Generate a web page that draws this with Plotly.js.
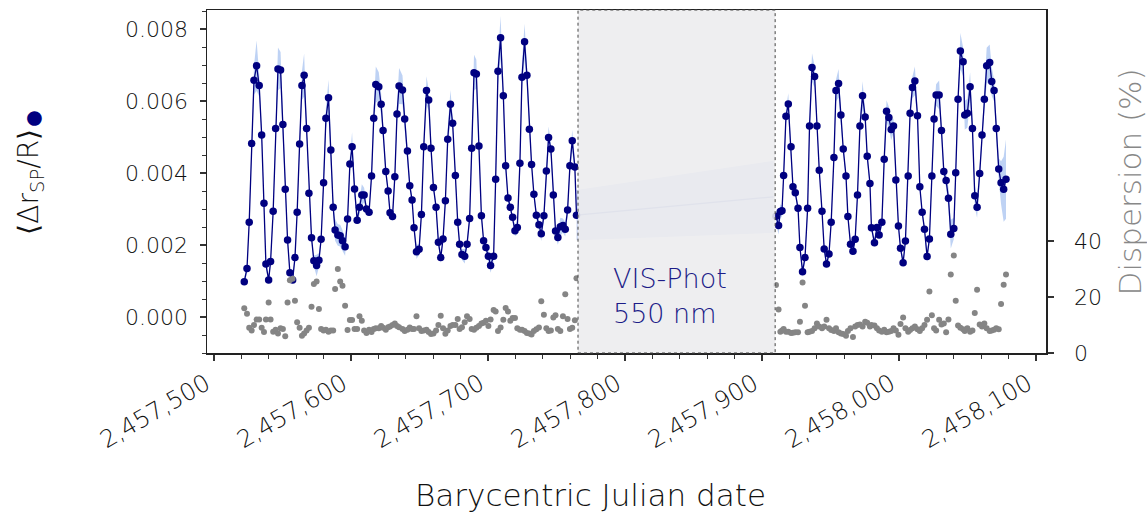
<!DOCTYPE html>
<html>
<head>
<meta charset="utf-8">
<script src="https://cdn.plot.ly/plotly-3.0.1.min.js"></script>
<style>html,body{margin:0;padding:0;background:#fff;}#chart{width:1147px;height:512px;}</style>
</head>
<body>
<div id="chart"></div>
<script>
// ---- Data ----
const bjdLeft = [
2457522.1,2457524.1,2457525.7,2457527.5,2457529.2,2457531.1,2457533.0,2457534.8,2457536.5,2457537.9,
2457539.9,2457541.3,2457543.2,2457545.0,2457546.7,2457548.6,2457550.3,2457552.0,2457553.7,2457555.4,
2457557.4,2457559.1,2457560.7,2457562.5,2457564.2,2457565.8,2457567.6,2457569.3,2457571.2,2457572.9,
2457574.9,2457576.6,2457578.2,2457580.0,2457581.7,2457583.6,2457585.3,2457587.0,2457588.4,2457590.4,
2457592.1,2457593.8,2457595.7,2457597.5,2457599.2,2457600.8,2457602.6,2457604.5,2457606.2,2457607.9,
2457609.6,2457611.3,2457613.2,2457615.0,2457616.6,2457618.1,2457620.3,2457622.0,2457623.4,2457625.4,
2457627.1,2457628.5,2457630.3,2457632.0,2457633.6,2457635.1,2457637.6,2457639.2,2457641.2,2457642.9,
2457644.6,2457646.0,2457647.8,2457649.7,2457651.4,2457653.1,2457655.1,2457656.7,2457658.4,2457660.2,
2457662.1,2457663.8,2457665.5,2457667.2,2457668.9,2457670.6,2457672.6,2457674.2,2457676.2,2457677.9,
2457679.3,2457681.0,2457683.0,2457684.7,2457686.6,2457688.1,2457689.8,2457691.5,2457693.4,2457695.2,
2457696.8,2457698.5,2457700.3,2457701.9,2457704.1,2457705.6,2457707.3,2457709.2,2457711.2,2457712.9,
2457714.6,2457716.3,2457718.0,2457719.7,2457721.4,2457723.3,2457724.8,2457726.7,2457728.4,2457730.2,
2457731.8,2457733.5,2457735.3,2457737.2,2457738.9,2457740.8,2457742.6,2457744.2,2457745.9,2457747.7,
2457749.3,2457751.0,2457752.8,2457754.7,2457756.4,2457758.1,2457759.8,2457761.5,2457763.4,2457764.6
];
const drLeft = [
0.00098,0.00135,0.00263,0.00482,0.00658,0.00698,0.00643,0.00506,0.00316,0.00147,
0.00103,0.00154,0.00294,0.00524,0.00689,0.00686,0.00535,0.00355,0.00214,0.00123,
0.00103,0.00165,0.00291,0.00481,0.00643,0.00672,0.00524,0.00344,0.00220,0.00156,
0.00143,0.00158,0.00216,0.00373,0.00552,0.00609,0.00464,0.00305,0.00242,0.00228,
0.00226,0.00212,0.00195,0.00272,0.00425,0.00473,0.00356,0.00269,0.00305,0.00339,
0.00339,0.00300,0.00291,0.00392,0.00552,0.00646,0.00640,0.00591,0.00518,0.00404,
0.00350,0.00290,0.00279,0.00390,0.00564,0.00642,0.00631,0.00550,0.00461,0.00365,
0.00325,0.00248,0.00181,0.00188,0.00285,0.00473,0.00629,0.00603,0.00469,0.00360,
0.00305,0.00208,0.00165,0.00217,0.00323,0.00494,0.00591,0.00538,0.00393,0.00263,
0.00202,0.00174,0.00169,0.00202,0.00274,0.00469,0.00679,0.00675,0.00475,0.00281,
0.00212,0.00193,0.00169,0.00143,0.00169,0.00383,0.00683,0.00776,0.00615,0.00420,
0.00331,0.00305,0.00277,0.00240,0.00249,0.00427,0.00666,0.00765,0.00672,0.00522,
0.00424,0.00341,0.00283,0.00256,0.00231,0.00281,0.00406,0.00499,0.00467,0.00339,
0.00239,0.00221,0.00251,0.00254,0.00244,0.00297,0.00420,0.00490,0.00417,0.00283
];
const errLeft = [
0.0001,0.00012,0.00015,0.0002,0.0004,0.0007,0.0003,0.00015,0.0001,0.00012,
0.0001,0.0001,0.00015,0.0002,0.0006,0.0005,0.0002,0.00012,0.0001,0.0001,
0.0001,0.0001,0.00015,0.0002,0.0004,0.0006,0.0002,0.00012,0.0001,0.00015,
0.0003,0.0002,0.0001,0.00015,0.0003,0.0005,0.0002,0.0002,0.0003,0.0003,
0.0003,0.0003,0.00025,0.0001,0.0002,0.0004,0.0002,0.0001,0.0002,0.0003,
0.0002,0.0001,0.0001,0.00012,0.0003,0.0005,0.0004,0.0003,0.0002,0.00012,
0.0001,0.0001,0.00012,0.00015,0.0003,0.0005,0.0004,0.0003,0.0002,0.00012,
0.0001,0.00012,0.0002,0.00015,0.0001,0.0002,0.0004,0.0003,0.00015,0.0001,
0.0001,0.00012,0.00015,0.0001,0.00015,0.0003,0.0004,0.0002,0.00012,0.0001,
0.00012,0.00015,0.0002,0.00012,0.0001,0.0002,0.0005,0.0004,0.0002,0.0001,
0.0001,0.00012,0.00015,0.0002,0.00012,0.0002,0.0004,0.0006,0.0003,0.00015,
0.0001,0.0001,0.00012,0.00015,0.0002,0.0002,0.0004,0.0005,0.0003,0.00015,
0.0001,0.0001,0.00012,0.00015,0.0002,0.00015,0.0002,0.0003,0.0002,0.00015,
0.00015,0.0002,0.00025,0.0002,0.0002,0.00015,0.0002,0.0003,0.0002,0.00015
];
const dispLeft = [
16,14,9,8,10,12,12,9,7.5,12,
18,12,7.6,8.3,7,8.8,8.6,6,18,26,
26.5,18.7,11,9,6.2,7,8,9,16.5,24.6,
25.5,15.7,8.6,8,8.3,7.6,8,8,22.9,30,
25.5,24,16.9,8.2,11.8,11.8,8.6,8.6,13.1,11.5,
8,7.1,8.3,7.5,8.6,8.8,8.8,9.6,9,8.3,
9.2,9.5,10,10.5,9.6,9.2,8.6,7.9,8.3,9.1,
8.6,8.6,13.1,8.8,7.9,8,8.3,7.5,6.8,7,
8,10,13.3,8.8,6.9,8,9.6,10,10,12.1,
8.6,9.2,11,13.1,12.1,8.6,8.3,9,9.6,10.5,
10.8,11.5,9.6,12,15.4,14.8,7.9,9.1,11.9,16.1,
14.8,11.5,12.5,12.5,8.8,8.3,8.3,7.9,7.1,7,
6.6,7.9,8.5,9.1,18.5,13.7,8.8,7.9,8,12.7,
13.5,8.6,7.9,13.1,21,12.1,8.6,9,11.7,26.7
];

const bjdRight = [
2457910.2,2457912.1,2457913.4,2457914.6,2457915.8,2457917.5,2457919.2,2457921.2,2457922.6,2457924.3,
2457926.3,2457927.7,2457929.6,2457931.4,2457933.3,2457934.7,2457936.5,2457938.4,2457940.1,2457941.8,
2457943.8,2457945.4,2457947.1,2457948.9,2457950.5,2457952.5,2457954.0,2457955.9,2457957.6,2457959.3,
2457961.3,2457962.7,2457964.6,2457966.4,2457968.0,2457969.7,2457971.5,2457973.4,2457975.3,2457976.8,
2457978.8,2457979.9,2457982.1,2457983.9,2457985.5,2457987.5,2457989.2,2457990.9,2457992.6,2457994.3,
2457996.0,2457997.7,2457999.6,2458001.1,2458003.0,2458004.7,2458006.7,2458008.1,2458009.8,2458011.6,
2458013.5,2458015.2,2458016.9,2458018.6,2458020.5,2458022.2,2458024.0,2458025.6,2458027.1,2458029.3,
2458031.0,2458032.7,2458034.4,2458036.1,2458037.8,2458040.0,2458041.4,2458043.1,2458044.8,2458046.8,
2458048.0,2458049.9,2458051.9,2458053.6,2458055.3,2458057.0,2458058.9,2458060.6,2458062.3,2458064.0,
2458066.2,2458067.7,2458069.4,2458071.0,2458072.8,2458074.5,2458076.4,2458078.1
];
const drRight = [
0.00280,0.00254,0.00293,0.00295,0.00393,0.00558,0.00592,0.00473,0.00362,0.00345,
0.00302,0.00193,0.00126,0.00165,0.00302,0.00531,0.00693,0.00668,0.00531,0.00408,
0.00294,0.00189,0.00147,0.00175,0.00263,0.00443,0.00629,0.00649,0.00561,0.00467,
0.00392,0.00279,0.00202,0.00183,0.00216,0.00339,0.00531,0.00615,0.00556,0.00447,
0.00371,0.00248,0.00206,0.00249,0.00228,0.00263,0.00438,0.00572,0.00554,0.00521,
0.00531,0.00381,0.00253,0.00191,0.00151,0.00211,0.00392,0.00566,0.00638,0.00656,
0.00559,0.00362,0.00291,0.00244,0.00168,0.00217,0.00392,0.00550,0.00617,0.00617,
0.00518,0.00404,0.00379,0.00330,0.00230,0.00246,0.00401,0.00605,0.00739,0.00709,
0.00561,0.00566,0.00640,0.00524,0.00337,0.00305,0.00399,0.00506,0.00605,0.00698,
0.00707,0.00654,0.00629,0.00524,0.00411,0.00373,0.00355,0.00383
];
const errRight = [
0.0002,0.00025,0.0002,0.00015,0.00015,0.0002,0.0003,0.0002,0.00012,0.0001,
0.0001,0.0001,0.00015,0.00012,0.0001,0.0002,0.0004,0.0003,0.00015,0.0001,
0.0001,0.0001,0.00012,0.0001,0.0001,0.00015,0.0003,0.0004,0.0002,0.00012,
0.0001,0.0001,0.00012,0.00012,0.0001,0.00012,0.0002,0.0004,0.0002,0.00012,
0.0001,0.0001,0.00012,0.00012,0.0001,0.00012,0.0002,0.0003,0.0003,0.0003,
0.0002,0.00012,0.0001,0.0001,0.00012,0.0001,0.00012,0.0002,0.0003,0.0004,
0.0002,0.00012,0.0001,0.0001,0.00015,0.0001,0.00012,0.0002,0.0003,0.0004,
0.0002,0.00015,0.0002,0.0003,0.0004,0.0003,0.0002,0.0003,0.0005,0.0004,
0.0004,0.0004,0.0004,0.0003,0.0003,0.0003,0.0002,0.00015,0.0003,0.0005,
0.0005,0.0004,0.0003,0.0002,0.0003,0.0006,0.0009,0.0011
];
const dispRight = [
24.3,15.5,7.6,8,8.6,7.6,7.6,7.1,7.2,7.4,
7.4,11.2,25.2,16.9,7.4,7.6,7.9,8.8,10.5,9.5,
8.8,9.5,11.9,8.8,8.2,7.9,8.8,7.4,7,6.8,
6.2,7.9,8.8,5.7,9.5,10,10.2,9.5,11.2,10.8,
9.5,10,9.8,8.8,8,7.6,8.3,7.4,7.6,7.9,
8.8,8,6.5,10.4,12.7,8.8,7.6,8.2,8.8,9.5,
8.5,7.9,8.8,10,11.9,22,13.5,8.8,8,11.9,
10.2,10.5,7.4,12,28,34.8,18.7,9.8,9,8.5,
7.9,8.8,7.6,8,14.3,22.6,10.2,9.5,10.5,8.8,
7.9,8,8.3,8.8,8.5,17.5,24.4,28
];

// model across the unobserved window
const bjdGap = [2457764.6, 2457908.5];
const drGap = [0.00283, 0.00334];
const errGap = [0.0007, 0.001];

// unobserved window and labels
const gapWindow = [2457765.7, 2457909.6];
const windowLabel = 'VIS-Phot<br>550 nm';
const xTickVals = [2457500, 2457600, 2457700, 2457800, 2457900, 2458000, 2458100];
const yTickVals = [0, 0.002, 0.004, 0.006, 0.008];
const y2TickVals = [0, 20, 40];

// ---- Build traces ----
const NAVY = '#000080';
const FONT = 'DejaVu Sans, Liberation Sans, sans-serif';

function band(x, y, e, color) {
  const up = y.map((v, i) => v + e[i]);
  const lo = y.map((v, i) => v - e[i]);
  return {
    x: x.concat(x.slice().reverse()),
    y: up.concat(lo.slice().reverse()),
    type: 'scatter', mode: 'lines', fill: 'toself',
    fillcolor: color, line: {width: 0}, hoverinfo: 'skip', showlegend: false
  };
}
function series(x, y) {
  return {
    x: x, y: y, type: 'scatter', mode: 'lines+markers',
    line: {color: NAVY, width: 1.3},
    marker: {color: NAVY, size: 7.5},
    showlegend: false
  };
}
function disp(x, y) {
  return {
    x: x, y: y, yaxis: 'y2', type: 'scatter', mode: 'markers',
    marker: {color: '#858585', size: 6},
    showlegend: false
  };
}

const traces = [
  band(bjdGap, drGap, errGap, 'rgba(120,150,220,0.35)'),
  {x: bjdGap, y: drGap, type: 'scatter', mode: 'lines', line: {color: 'rgba(90,110,190,0.6)', width: 1.2}, showlegend: false},
  band(bjdLeft, drLeft, errLeft, 'rgba(110,155,230,0.45)'),
  band(bjdRight, drRight, errRight, 'rgba(110,155,230,0.45)'),
  series(bjdLeft, drLeft),
  series(bjdRight, drRight),
  disp(bjdLeft, dispLeft),
  disp(bjdRight, dispRight)
];

const tickFont = {family: FONT, size: 22, color: '#111', weight: 300};

const layout = {
  width: 1147, height: 512,
  margin: {l: 207, r: 101, t: 10, b: 159},
  paper_bgcolor: '#fff', plot_bgcolor: '#fff',
  showlegend: false,
  xaxis: {
    range: [2457494.9, 2458107.3],
    tickmode: 'array', tickvals: xTickVals, tickformat: ',d',
    tickangle: -30, tickfont: {family: FONT, size: 24, color: '#111', weight: 300},
    ticklabelshift: -8,
    ticks: 'outside', ticklen: 6, tickwidth: 1.2, tickcolor: '#333',
    minor: {dtick: 20, ticks: 'outside', ticklen: 4, tickcolor: '#333', tickwidth: 1},
    showline: true, linecolor: '#222', linewidth: 1.5, mirror: true,
    showgrid: false, zeroline: false
  },
  yaxis: {
    range: [-0.001, 0.00853],
    tickmode: 'array', tickvals: yTickVals, tickformat: '.3f',
    tickfont: tickFont, ticklabelstandoff: 7,
    ticks: 'outside', ticklen: 6, tickwidth: 1.2, tickcolor: '#333',
    minor: {dtick: 0.0005, tick0: 0, ticks: 'outside', ticklen: 4, tickcolor: '#333', tickwidth: 1},
    showline: true, linecolor: '#222', linewidth: 1.5,
    showgrid: false, zeroline: false
  },
  yaxis2: {
    overlaying: 'y', side: 'right',
    range: [0, 122.5],
    tickmode: 'array', tickvals: y2TickVals,
    tickfont: tickFont, ticklabelstandoff: 16,
    ticks: 'outside', ticklen: 6, tickwidth: 1.2, tickcolor: '#333',
    showline: true, linecolor: '#222', linewidth: 1.5,
    showgrid: false, zeroline: false
  },
  shapes: [{
    type: 'rect', xref: 'x', yref: 'paper',
    x0: gapWindow[0], x1: gapWindow[1], y0: 0, y1: 1,
    fillcolor: 'rgba(236,236,238,0.88)', layer: 'above',
    line: {color: '#444', width: 1, dash: 'dot'}
  }],
  annotations: [
    {text: windowLabel, xref: 'x', yref: 'y', x: 2457789.5, y: 0.00058,
     xanchor: 'left', yanchor: 'middle', align: 'left', showarrow: false,
     font: {family: FONT, size: 27, color: '#1c1c88', weight: 300}},
    {text: 'Barycentric Julian date', xref: 'paper', yref: 'paper',
     x: 0.4565, y: -0.414, xanchor: 'center', yanchor: 'middle', showarrow: false,
     font: {family: FONT, size: 31, color: '#111', weight: 300}},
    {text: 'Dispersion (%)', xref: 'paper', yref: 'paper',
     x: 1.1, y: 0.5, xanchor: 'center', yanchor: 'middle', textangle: -90, showarrow: false,
     font: {family: FONT, size: 31, color: '#888', weight: 300}},
    {text: '⟨Δr<sub>SP</sub>/R⟩<sub><span style="font-size:34px;color:#000080">●</span></sub>', xref: 'paper', yref: 'paper',
     x: -0.208, y: 0.53, xanchor: 'center', yanchor: 'middle', textangle: -90, showarrow: false,
     font: {family: FONT, size: 28, color: '#111', weight: 300}}
  ]
};

Plotly.newPlot('chart', traces, layout, {displayModeBar: false, staticPlot: true});
</script>
</body>
</html>
